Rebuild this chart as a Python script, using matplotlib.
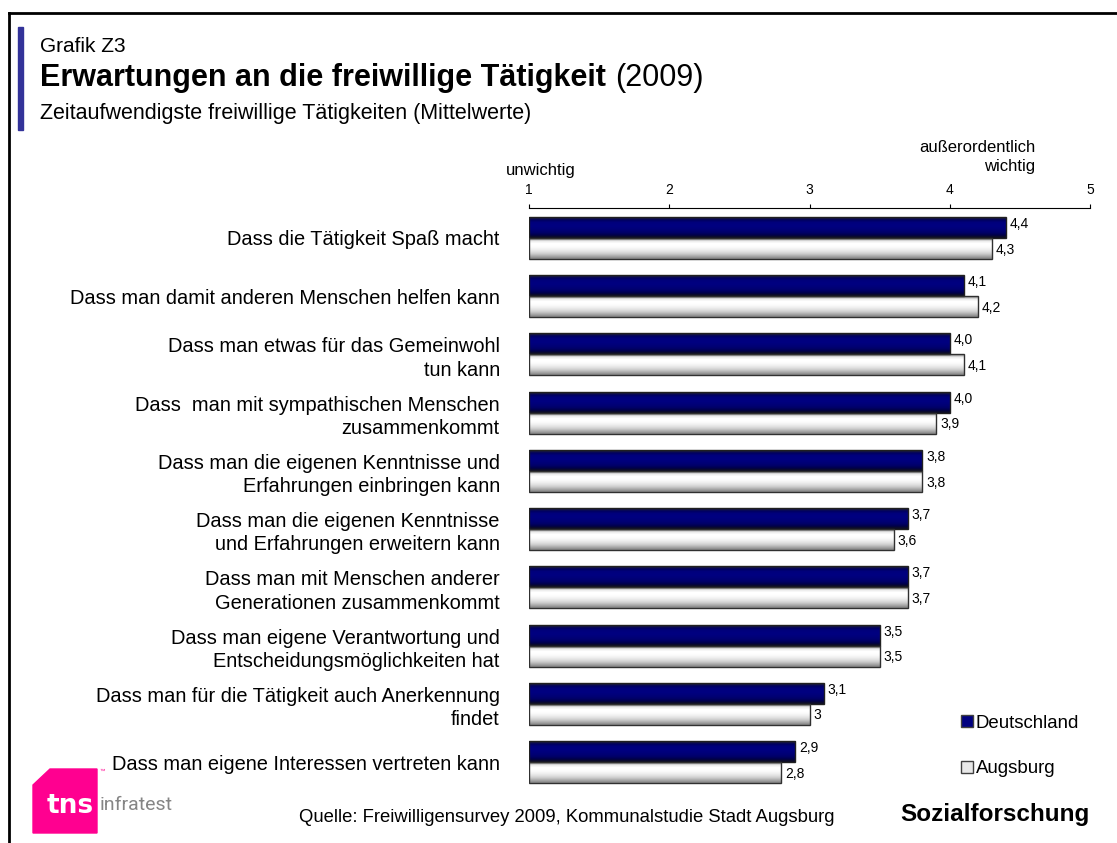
import numpy as np
import matplotlib
matplotlib.use("Agg")
import matplotlib.pyplot as plt
from matplotlib.patches import Patch, Polygon, Rectangle
from matplotlib.lines import Line2D

plt.rcParams['font.family'] = ['Liberation Sans', 'DejaVu Sans']

# data
categories = [
    "Dass die Tätigkeit Spaß macht",
    "Dass man damit anderen Menschen helfen kann",
    "Dass man etwas für das Gemeinwohl\ntun kann",
    "Dass  man mit sympathischen Menschen\nzusammenkommt",
    "Dass man die eigenen Kenntnisse und\nErfahrungen einbringen kann",
    "Dass man die eigenen Kenntnisse\nund Erfahrungen erweitern kann",
    "Dass man mit Menschen anderer\nGenerationen zusammenkommt",
    "Dass man eigene Verantwortung und\nEntscheidungsmöglichkeiten hat",
    "Dass man für die Tätigkeit auch Anerkennung\nfindet",
    "Dass man eigene Interessen vertreten kann",
]
deutschland = [4.4, 4.1, 4.0, 4.0, 3.8, 3.7, 3.7, 3.5, 3.1, 2.9]
augsburg = [4.3, 4.2, 4.1, 3.9, 3.8, 3.6, 3.7, 3.5, 3.0, 2.8]
de_labels = ["4,4", "4,1", "4,0", "4,0", "3,8", "3,7", "3,7", "3,5", "3,1", "2,9"]
au_labels = ["4,3", "4,2", "4,1", "3,9", "3,8", "3,6", "3,7", "3,5", "3", "2,8"]
x_ticks = [1, 2, 3, 4, 5]

W, H = 1117, 843
fig = plt.figure(figsize=(W / 100, H / 100), dpi=100)

# axes placed in pixel terms
ax_l, ax_r = 529, 1090
ax_t, ax_b = 208, 792
ax = fig.add_axes([ax_l / W, 1 - ax_b / H, (ax_r - ax_l) / W, (ax_b - ax_t) / H])

bh = 0.36
y = np.arange(len(categories))

# vertical gradients (top of bar -> bottom of bar)
navy_grad = np.array([
    [0.10, 0.10, 0.25], [0.0, 0.0, 0.38], [0.0, 0.0, 0.48], [0.0, 0.0, 0.50],
    [0.0, 0.0, 0.50], [0.0, 0.0, 0.48], [0.0, 0.0, 0.45], [0.0, 0.0, 0.40],
    [0.0, 0.0, 0.30], [0.05, 0.05, 0.15]])
white_grad = np.array([
    [0.62, 0.62, 0.62], [0.92, 0.92, 0.92], [1.0, 1.0, 1.0], [1.0, 1.0, 1.0],
    [0.98, 0.98, 0.98], [0.94, 0.94, 0.94], [0.88, 0.88, 0.88], [0.80, 0.80, 0.80],
    [0.68, 0.68, 0.68], [0.55, 0.55, 0.55]])


def grad_bar(yc, val, grad):
    img = grad[:, None, :]
    ax.imshow(img, extent=(1, val, yc - bh / 2, yc + bh / 2), origin='lower',
              aspect='auto', interpolation='bilinear', zorder=2)


for i in range(len(categories)):
    grad_bar(y[i] - bh / 2, deutschland[i], navy_grad)
    grad_bar(y[i] + bh / 2, augsburg[i], white_grad)

ax.barh(y - bh / 2, np.array(deutschland) - 1, left=1, height=bh,
        facecolor='none', edgecolor='#202020', linewidth=1, zorder=3)
ax.barh(y + bh / 2, np.array(augsburg) - 1, left=1, height=bh,
        facecolor='none', edgecolor='#303030', linewidth=1, zorder=3)

for i in range(len(categories)):
    ax.text(deutschland[i] + 0.03, y[i] - bh / 2 - 0.06, de_labels[i],
            fontsize=10, va='center', ha='left')
    ax.text(augsburg[i] + 0.03, y[i] + bh / 2 + 0.02, au_labels[i],
            fontsize=10, va='center', ha='left')

ax.set_xlim(1, 5)
ax.set_ylim(len(categories) - 0.485, -0.515)
ax.xaxis.tick_top()
ax.set_xticks(x_ticks)
ax.set_xticklabels([str(t) for t in x_ticks], fontsize=10)
ax.tick_params(axis='x', direction='out', length=3, width=0.8, pad=5)
ax.set_yticks(y)
ax.set_yticklabels(categories, fontsize=14.4, linespacing=1.28)
ax.tick_params(axis='y', length=0, pad=21)
for s in ['bottom', 'left', 'right']:
    ax.spines[s].set_visible(False)
ax.spines['top'].set_linewidth(0.8)
ax.patch.set_alpha(0)

# frame lines and accent bar
fig.add_artist(Line2D([9 / W, 1], [1 - 13 / H, 1 - 13 / H], color='black', lw=2))
fig.add_artist(Line2D([9 / W, 9 / W], [0, 1 - 13 / H], color='black', lw=2))
fig.add_artist(Rectangle((18 / W, 1 - 130 / H), 5 / W, 103 / H,
                         transform=fig.transFigure, color='#333399'))

# titles
fig.text(40 / W, 1 - 52 / H, "Grafik Z3", fontsize=15, va='baseline')
t1 = fig.text(40 / W, 1 - 86 / H, "Erwartungen an die freiwillige Tätigkeit",
              fontsize=22, fontweight='bold', va='baseline')
fig.canvas.draw()
bb = t1.get_window_extent(renderer=fig.canvas.get_renderer())
fig.text(bb.x1 / W + 9 / W, 1 - 86 / H, "(2009)", fontsize=22, va='baseline')
fig.text(40 / W, 1 - 119 / H, "Zeitaufwendigste freiwillige Tätigkeiten (Mittelwerte)",
         fontsize=15.5, va='baseline')

# scale annotations
fig.text(506 / W, 1 - 170 / H, "unwichtig", fontsize=12, va='center')
fig.text(1035 / W, 1 - 157 / H, "außerordentlich\nwichtig", fontsize=12,
         va='center', ha='right', multialignment='right', linespacing=1.3)

# legend
handles = [Patch(facecolor='#000080', edgecolor='#404040', label='Deutschland'),
           Patch(facecolor='#e8e8e8', edgecolor='#404040', label='Augsburg')]
fig.legend(handles=handles, loc='center left', bbox_to_anchor=(944 / W, 1 - 746 / H),
           frameon=False, fontsize=13.4, handlelength=0.65, handleheight=0.65,
           handletextpad=0.15, labelspacing=1.55)

# footer
fig.text(567 / W, 1 - 817 / H,
         "Quelle: Freiwilligensurvey 2009, Kommunalstudie Stadt Augsburg",
         fontsize=13.3, ha='center', va='center')
fig.text(1090 / W, 1 - 815 / H, "Sozialforschung", fontsize=17.5,
         fontweight='bold', ha='right', va='center')

# logo
logo = [(33, 785), (50, 769), (97, 769), (97, 833), (33, 833)]
fig.add_artist(Polygon([(px / W, 1 - py / H) for px, py in logo], closed=True,
                       transform=fig.transFigure, color='#ff0090'))
fig.text(47 / W, 1 - 806 / H, "tns", fontsize=19, fontweight='bold',
         color='white', va='center', family='DejaVu Sans')
fig.text(100 / W, 1 - 805 / H, "infratest", fontsize=14, color='#858585',
         va='center', family='Roboto')
fig.text(100 / W, 1 - 771 / H, "™", fontsize=4, color='#ff0090', va='center')

fig.savefig("out.png", dpi=100)
